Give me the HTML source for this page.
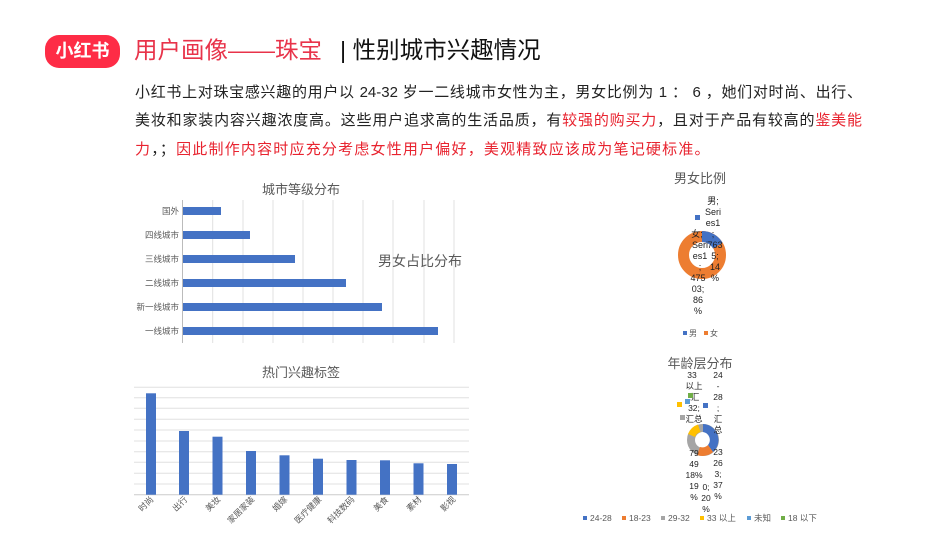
<!DOCTYPE html>
<html><head><meta charset="utf-8"><style>
body{margin:0;width:950px;height:535px;background:#fff;overflow:hidden;position:relative;font-family:"Liberation Sans","Noto Sans CJK SC",sans-serif}
.a{position:absolute;white-space:nowrap}
.ln{position:absolute;left:135px;width:727px;font-size:15px;line-height:20px;color:#222;white-space:nowrap;text-align:justify;text-align-last:justify}
.r{color:#e8232f}
</style></head><body>
<div class="a" style="left:45px;top:35px;width:75px;height:33px;background:#fe2c46;border-radius:14px;color:#fff;font-size:18px;font-weight:bold;line-height:33px;text-align:center">小红书</div>
<div class="a" style="left:134px;top:35px;font-size:23.5px;color:#e8334a;line-height:30px">用户画像——珠宝</div>
<div class="a" style="left:340px;top:35px;font-size:23.5px;color:#111;line-height:30px">| 性别城市兴趣情况</div>
<div class="ln" style="top:83px">小红书上对珠宝感兴趣的用户以 24-32 岁一二线城市女性为主，男女比例为 1 ： 6 ，她们对时尚、出行、</div>
<div class="ln" style="top:111px">美妆和家装内容兴趣浓度高。这些用户追求高的生活品质，有<span class="r">较强的购买力</span>，且对于产品有较高的<span class="r">鉴美能</span></div>
<div class="ln" style="top:140px;text-align:left;text-align-last:left;letter-spacing:1.2px"><span class="r">力</span>，；<span class="r">因此制作内容时应充分考虑女性用户偏好，美观精致应该成为笔记硬标准。</span></div>
<svg class="a" style="left:0;top:0" width="950" height="535" font-family="Liberation Sans,Noto Sans CJK SC,sans-serif">
<text x="301" y="194" font-size="13" fill="#595959" text-anchor="middle">城市等级分布</text>
<g stroke="#e0e0e0">
<line x1="212.7" y1="200" x2="212.7" y2="343"/><line x1="243" y1="200" x2="243" y2="343"/><line x1="273" y1="200" x2="273" y2="343"/><line x1="303" y1="200" x2="303" y2="343"/><line x1="333" y1="200" x2="333" y2="343"/><line x1="363" y1="200" x2="363" y2="343"/><line x1="393" y1="200" x2="393" y2="343"/><line x1="424" y1="200" x2="424" y2="343"/><line x1="454" y1="200" x2="454" y2="343"/>
<line x1="182.5" y1="200" x2="182.5" y2="343" stroke="#bbb"/></g>
<g fill="#4472c4">
<rect x="183" y="207" width="38" height="8"/><rect x="183" y="231" width="67" height="8"/><rect x="183" y="255" width="112" height="8"/><rect x="183" y="279" width="163" height="8"/><rect x="183" y="303" width="199" height="8"/><rect x="183" y="327" width="255" height="8"/></g>
<g font-size="8.5" fill="#595959" text-anchor="end">
<text x="179" y="214">国外</text><text x="179" y="238">四线城市</text><text x="179" y="262">三线城市</text><text x="179" y="286">二线城市</text><text x="179" y="310">新一线城市</text><text x="179" y="334">一线城市</text></g>
<text x="378" y="266" font-size="14" fill="#595959">男女占比分布</text>
<text x="301" y="377" font-size="13" fill="#595959" text-anchor="middle">热门兴趣标签</text>
<g stroke="#e0e0e0">
<line x1="134" x2="469" y1="387.3" y2="387.3"/><line x1="134" x2="469" y1="397.7" y2="397.7"/><line x1="134" x2="469" y1="408.3" y2="408.3"/><line x1="134" x2="469" y1="419.3" y2="419.3"/><line x1="134" x2="469" y1="430" y2="430"/><line x1="134" x2="469" y1="441" y2="441"/><line x1="134" x2="469" y1="451.7" y2="451.7"/><line x1="134" x2="469" y1="462.3" y2="462.3"/><line x1="134" x2="469" y1="473.3" y2="473.3"/><line x1="134" x2="469" y1="484" y2="484"/><line x1="134" x2="469" y1="494.7" y2="494.7" stroke="#ccc"/></g>
<g fill="#4472c4">
<rect x="146" y="393.3" width="10" height="101.4"/><rect x="179" y="431" width="10" height="63.7"/><rect x="212.5" y="436.7" width="10" height="58"/><rect x="246" y="451" width="10" height="43.7"/><rect x="279.5" y="455.3" width="10" height="39.4"/><rect x="313" y="458.7" width="10" height="36"/><rect x="346.5" y="460" width="10" height="34.7"/><rect x="380" y="460.3" width="10" height="34.4"/><rect x="413.5" y="463.3" width="10" height="31.4"/><rect x="447" y="464" width="10" height="30.7"/></g>
<g font-size="8.5" fill="#595959" text-anchor="end">
<text transform="translate(154,500) rotate(-45)">时尚</text><text transform="translate(188,500) rotate(-45)">出行</text><text transform="translate(221,500) rotate(-45)">美妆</text><text transform="translate(255,500) rotate(-45)">家居家装</text><text transform="translate(288,500) rotate(-45)">婚嫁</text><text transform="translate(322,500) rotate(-45)">医疗健康</text><text transform="translate(355,500) rotate(-45)">科技数码</text><text transform="translate(389,500) rotate(-45)">美食</text><text transform="translate(422,500) rotate(-45)">素材</text><text transform="translate(456,500) rotate(-45)">影视</text></g>
<text x="700" y="183" font-size="13" fill="#595959" text-anchor="middle">男女比例</text>
<circle cx="702" cy="255" r="18.5" fill="none" stroke="#ed7d31" stroke-width="11"/>
<path d="M702 231 A24 24 0 0 1 722.5 242.5 L713 248.5 A13 13 0 0 0 702 242 Z" fill="#4472c4"/>
<rect x="695" y="215" width="5" height="5" fill="#4472c4"/>
<g font-size="9" fill="#222" text-anchor="middle">
<text x="713" y="204">男;</text><text x="713" y="215">Seri</text><text x="713" y="226">es1</text><text x="713" y="237">;</text><text x="715" y="248">763</text><text x="715" y="259">5;</text><text x="715" y="270">14</text><text x="715" y="281">%</text>
<text x="697" y="237">女;</text><text x="700" y="248">Seri</text><text x="700" y="259">es1</text><text x="700" y="270">;</text><text x="698" y="281">475</text><text x="698" y="292">03;</text><text x="698" y="303">86</text><text x="698" y="314">%</text></g>
<rect x="683" y="331" width="4" height="4" fill="#4472c4"/><text x="689" y="336" font-size="8" fill="#595959">男</text>
<rect x="704" y="331" width="4" height="4" fill="#ed7d31"/><text x="710" y="336" font-size="8" fill="#595959">女</text>
<text x="700" y="368" font-size="13" fill="#595959" text-anchor="middle">年龄层分布</text>
<circle cx="703" cy="440" r="12" fill="none" stroke="#a5a5a5" stroke-width="8"/>
<path d="M703 424 A16 16 0 0 1 713 452 L708 445 A8 8 0 0 0 703 432 Z" fill="#4472c4"/>
<path d="M713 452 A16 16 0 0 1 697 455 L700 447 A8 8 0 0 0 708 445 Z" fill="#ed7d31"/>
<path d="M688 434 A16 16 0 0 1 698 424.5 L700.5 432 A8 8 0 0 0 695 437 Z" fill="#ffc000"/>
<g font-size="8.5" fill="#222" text-anchor="middle">
<text x="718" y="378">24</text><text x="718" y="389">-</text><text x="718" y="400">28</text><text x="718" y="411">;</text><text x="718" y="422">汇</text><text x="718" y="433">总</text><text x="718" y="455">23</text><text x="718" y="466">26</text><text x="718" y="477">3;</text><text x="718" y="488">37</text><text x="718" y="499">%</text>
<text x="692" y="378">33</text><text x="694" y="389">以上</text><text x="694" y="400">;汇</text><text x="694" y="411">32;</text><text x="694" y="422">汇总</text><text x="694" y="456">79</text><text x="694" y="467">49</text><text x="694" y="478">18%</text><text x="694" y="489">19</text><text x="694" y="500">%</text>
<text x="706" y="490">0;</text><text x="706" y="501">20</text><text x="706" y="512">%</text></g>
<rect x="677" y="402" width="5" height="5" fill="#ffc000"/><rect x="685" y="399" width="5" height="5" fill="#5b9bd5"/><rect x="688" y="393" width="5" height="5" fill="#70ad47"/><rect x="680" y="415" width="5" height="5" fill="#a5a5a5"/><rect x="703" y="403" width="5" height="5" fill="#4472c4"/>
<g font-size="8.5" fill="#595959">
<rect x="583" y="516" width="4" height="4" fill="#4472c4"/><text x="590" y="521">24-28</text>
<rect x="622" y="516" width="4" height="4" fill="#ed7d31"/><text x="629" y="521">18-23</text>
<rect x="661" y="516" width="4" height="4" fill="#a5a5a5"/><text x="668" y="521">29-32</text>
<rect x="700" y="516" width="4" height="4" fill="#ffc000"/><text x="707" y="521">33 以上</text>
<rect x="747" y="516" width="4" height="4" fill="#5b9bd5"/><text x="754" y="521">未知</text>
<rect x="781" y="516" width="4" height="4" fill="#70ad47"/><text x="788" y="521">18 以下</text></g>
</svg>
</body></html>
